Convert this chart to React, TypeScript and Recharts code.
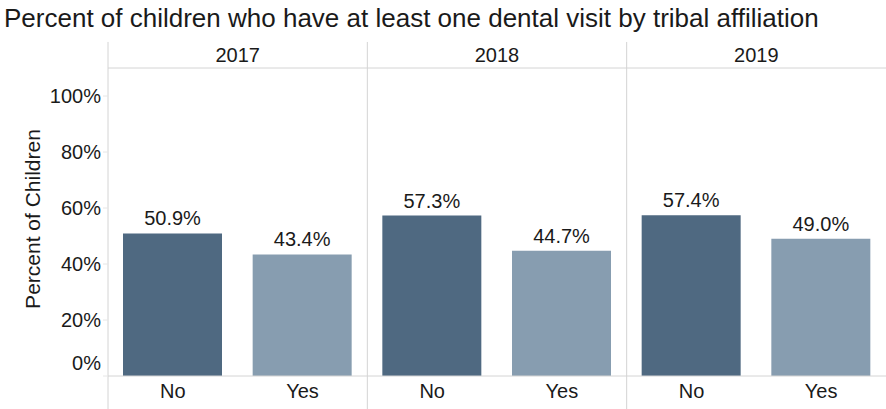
import React from "react";
import {
  BarChart,
  Bar,
  Cell,
  XAxis,
  YAxis,
  ReferenceLine,
  LabelList,
} from "recharts";

const years = ["2017", "2018", "2019"];
const groups = ["No", "Yes"];
const percentByYear = [
  [50.9, 43.4],
  [57.3, 44.7],
  [57.4, 49.0],
];
const yTicks = [0, 20, 40, 60, 80, 100];

const groupColors: Record<string, string> = { No: "#4f6981", Yes: "#879db0" };
const lineColor = "#d4d4d4";
const textColor = "#1a1a1a";

// slot = position of the bar on a 0..3 "year panel" scale, used by the top axis
const data = years.flatMap((year, i) =>
  groups.map((group, j) => ({
    year,
    group,
    value: percentByYear[i][j],
    slot: i + (j + 0.5) / groups.length,
  }))
);

const YTick = (props: any) => {
  const { x, y, payload } = props;
  // the 0% label is lifted so it stays inside the panel, like the original
  const shift = payload.value === 0 ? -13 : 0;
  return (
    <text x={x} y={y + shift} dy="0.355em" textAnchor="end" fontSize={20} fill={textColor}>
      {payload.value}%
    </text>
  );
};

const YLabel = (props: any) => {
  const { viewBox } = props;
  const cx = viewBox.x + 32;
  const cy = viewBox.y + viewBox.height / 2 - 3;
  return (
    <text
      x={cx}
      y={cy}
      transform={`rotate(-90, ${cx}, ${cy})`}
      textAnchor="middle"
      dominantBaseline="central"
      fontSize={21}
      fill={textColor}
    >
      Percent of Children
    </text>
  );
};

export default function App() {
  return (
    <div
      style={{
        position: "absolute",
        left: 0,
        top: 0,
        width: 886,
        height: 409,
        background: "#fff",
        fontFamily: '"Liberation Sans", Arial, sans-serif',
      }}
    >
      <div
        style={{
          position: "absolute",
          left: 4,
          top: 2,
          fontSize: 26,
          lineHeight: "32px",
          color: textColor,
          whiteSpace: "nowrap",
        }}
      >
        Percent of children who have at least one dental visit by tribal affiliation
      </div>
      <BarChart
        width={886}
        height={409}
        data={data}
        margin={{ top: 42, right: 0, bottom: 0, left: 0 }}
      >
        <XAxis
          xAxisId="year"
          dataKey="slot"
          type="number"
          orientation="top"
          domain={[0, 3]}
          ticks={[0.5, 1.5, 2.5]}
          tickFormatter={(v: number) => years[Math.floor(v)]}
          allowDataOverflow
          height={26}
          tickLine={false}
          tickSize={0}
          tickMargin={6}
          axisLine={{ stroke: lineColor }}
          tick={{ fontSize: 20, fill: textColor }}
        />
        <XAxis
          xAxisId="cat"
          dataKey="group"
          height={33}
          tickLine={false}
          axisLine={{ stroke: lineColor }}
          tick={{ fontSize: 20, fill: textColor }}
          interval={0}
        />
        <YAxis
          width={108}
          domain={[0, 110]}
          ticks={yTicks}
          allowDataOverflow
          axisLine={false}
          tickSize={5}
          tickMargin={2}
          tickLine={{ stroke: "#e6e6e6" }}
          tick={<YTick />}
          label={<YLabel />}
        />
        {[0, 1, 2].map((x) => (
          <ReferenceLine
            key={x}
            xAxisId="year"
            ifOverflow="visible"
            segment={[
              { x, y: -11.8 },
              { x, y: 119.3 },
            ]}
            stroke={lineColor}
          />
        ))}
        <Bar xAxisId="cat" dataKey="value" barSize={99} isAnimationActive={false}>
          {data.map((d, i) => (
            <Cell key={i} fill={groupColors[d.group]} />
          ))}
          <LabelList
            dataKey="value"
            position="top"
            offset={8}
            fontSize={20}
            fill={textColor}
            formatter={(v: any) => `${Number(v).toFixed(1)}%`}
          />
        </Bar>
      </BarChart>
    </div>
  );
}
